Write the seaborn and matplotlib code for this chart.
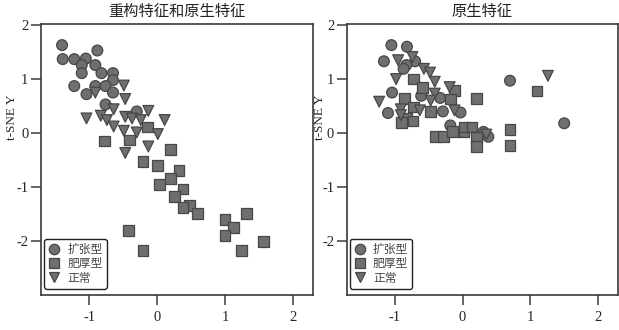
import pandas as pd
import seaborn as sns
import matplotlib.pyplot as plt

# 重构特征和原生特征 (left panel)
l_dil_x = [-1.40, -1.39, -1.22, -1.05, -1.11, -1.11, -0.88, -0.91, -0.82, -0.65,
           -0.65, -1.22, -0.91, -0.76, -1.04, -0.65, -0.76, -0.30]
l_dil_y = [1.63, 1.37, 1.37, 1.38, 1.26, 1.11, 1.53, 1.26, 1.11, 1.11,
           0.98, 0.87, 0.87, 0.87, 0.72, 0.75, 0.53, 0.40]
l_hyp_x = [-0.14, -0.77, -0.41, 0.20, -0.21, 0.01, 0.32, 0.04, 0.20, 0.38, 0.26,
           0.48, 0.38, 0.59, -0.42, -0.21, 1.00, 1.12, 1.00, 1.31, 1.56, 1.24]
l_hyp_y = [0.11, -0.15, -0.13, -0.30, -0.53, -0.61, -0.69, -0.95, -0.85, -1.04, -1.18,
           -1.34, -1.38, -1.50, -1.81, -2.18, -1.60, -1.75, -1.90, -1.50, -2.02, -2.18]
l_nor_x = [-0.49, -0.91, -0.47, -0.64, -0.13, -1.04, -0.83, -0.74, -0.64, -0.47,
           -0.37, -0.24, 0.11, -0.49, -0.30, 0.01, -0.13, -0.47]
l_nor_y = [0.88, 0.75, 0.63, 0.44, 0.41, 0.27, 0.32, 0.24, 0.12, 0.30,
           0.27, 0.24, 0.24, 0.04, 0.01, -0.02, -0.25, -0.37]

# 原生特征 (right panel)
r_dil_x = [-1.05, -0.82, -1.16, -0.70, -0.83, -0.87, -1.04, -1.10, -0.61,
           -0.33, -0.29, -0.03, -0.18, 0.31, 0.38, 0.70, 1.50]
r_dil_y = [1.63, 1.60, 1.33, 1.33, 1.26, 1.19, 0.75, 0.37, 0.69,
           0.65, 0.40, 0.38, 0.14, 0.02, -0.07, 0.97, 0.18]
r_hyp_x = [-0.72, -0.59, -0.12, -0.86, -0.18, 0.21, -0.72, -0.47, -0.82, -0.90, -0.73,
           -0.40, -0.28, -0.15, 0.02, 0.02, 0.14, 0.21, 0.21, 0.70, 0.70, 1.10]
r_hyp_y = [1.00, 0.85, 0.79, 0.64, 0.63, 0.64, 0.48, 0.40, 0.27, 0.19, 0.22,
           -0.07, -0.07, 0.03, 0.03, 0.11, 0.11, -0.09, -0.25, 0.07, -0.23, 0.78]
r_nor_x = [-0.95, -0.74, -0.57, -0.48, -0.98, -0.41, -0.19, -0.41,
           -0.47, -1.23, -0.91, -0.63, -0.12, -0.91, 0.35, 1.26]
r_nor_y = [1.35, 1.41, 1.19, 1.12, 1.00, 0.95, 0.85, 0.73,
           0.60, 0.58, 0.44, 0.42, 0.42, 0.33, -0.03, 1.06]

groups = ["扩张型", "肥厚型", "正常"]
titles = ["重构特征和原生特征", "原生特征"]
x_ticks = [-1, 0, 1, 2]
y_ticks = [-2, -1, 0, 1, 2]


def make_df(dx, dy, hx, hy, nx, ny):
    parts = []
    for g, xs, ys in zip(groups, [dx, hx, nx], [dy, hy, ny]):
        parts.append(pd.DataFrame({"x": xs, "y": ys, "组": g}))
    return pd.concat(parts, ignore_index=True)


df_left = make_df(l_dil_x, l_dil_y, l_hyp_x, l_hyp_y, l_nor_x, l_nor_y)
df_right = make_df(r_dil_x, r_dil_y, r_hyp_x, r_hyp_y, r_nor_x, r_nor_y)

sns.set_style("ticks")
plt.rcParams["font.family"] = ["Liberation Serif", "Noto Sans CJK SC"]

fill = "#6f6f6f"
edge = "#474747"
spine_col = "#3a3a3a"
cjk = ["Noto Sans CJK SC", "DejaVu Sans"]

fig = plt.figure(figsize=(6.19, 3.30), dpi=100)
ax1 = fig.add_axes([0.0662, 0.107, 0.439, 0.820])
ax2 = fig.add_axes([0.560, 0.107, 0.438, 0.820])

for ax, df, title, lx in [(ax1, df_left, titles[0], -0.085), (ax2, df_right, titles[1], -0.076)]:
    sns.scatterplot(data=df, x="x", y="y", style="组", style_order=groups,
                    markers={"扩张型": "o", "肥厚型": "s", "正常": "v"},
                    color=fill, edgecolor=edge, linewidth=0.9, s=60, ax=ax)
    ax.set_xlim(-1.71, 2.29)
    ax.set_ylim(-3.0, 2.02)
    ax.set_xticks(x_ticks)
    ax.set_yticks(y_ticks)
    ax.set_xticklabels([str(v) for v in x_ticks])
    ax.set_yticklabels([str(v) for v in y_ticks])
    ax.tick_params(axis="both", direction="out", length=7.5, width=1.1,
                   color=spine_col, labelsize=10.5)
    ax.tick_params(axis="x", pad=4)
    ax.tick_params(axis="y", pad=1.5)
    for sp in ax.spines.values():
        sp.set_visible(True)
        sp.set_color(spine_col)
        sp.set_linewidth(1.2)
    ax.set_xlabel("")
    ax.set_ylabel("t-SNE Y", fontsize=9.5)
    ax.yaxis.set_label_coords(lx, 0.656)
    ax.set_title(title, family=cjk, fontsize=11, pad=6, color="#222222")

    handles, labels = ax.get_legend_handles_labels()
    for h in handles:
        if hasattr(h, "set_markerfacecolor"):
            h.set_markerfacecolor(fill)
            h.set_markeredgecolor(edge)
            h.set_markersize(7.5)
    leg = ax.legend(handles, labels, loc="lower left", bbox_to_anchor=(0.012, 0.022),
                    borderaxespad=0, prop={"family": cjk, "size": 8.5},
                    handlelength=1.0, handletextpad=0.6, labelspacing=0.12,
                    borderpad=0.35, fancybox=True, framealpha=1)
    leg.get_frame().set_edgecolor("#222222")
    leg.get_frame().set_linewidth(1.0)
    for t in leg.get_texts():
        t.set_color("#444444")

fig.savefig("out.png", dpi=100)
